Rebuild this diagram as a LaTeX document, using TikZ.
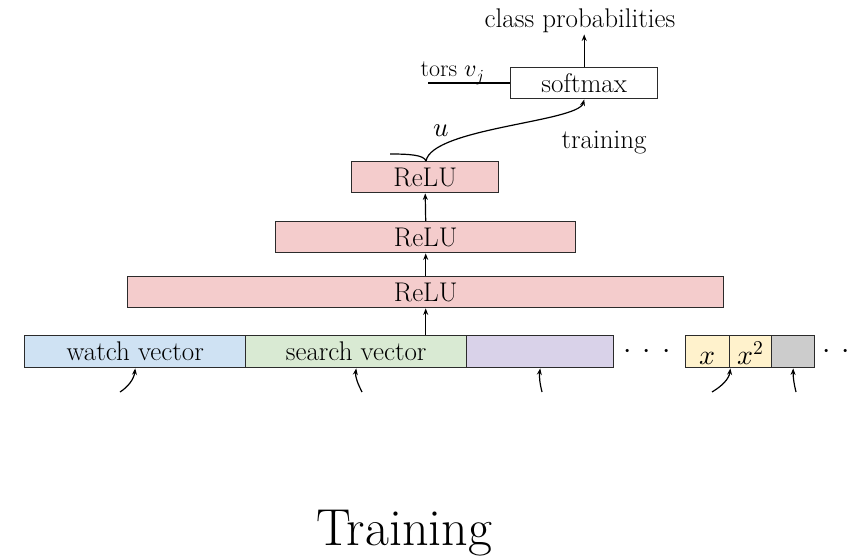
\documentclass[tikz,border=0pt]{standalone}
\usepackage{fontspec}
\usepackage{unicode-math}
\usetikzlibrary{arrows.meta}

\definecolor{relufill}{HTML}{F4CCCC}
\definecolor{watchfill}{HTML}{CFE2F3}
\definecolor{searchfill}{HTML}{D9EAD3}
\definecolor{geofill}{HTML}{D9D2E9}
\definecolor{agefill}{HTML}{FFF2CC}
\definecolor{genderfill}{HTML}{CCCCCC}
\definecolor{edgecol}{HTML}{2B2B2B}

\tikzset{
  layerbox/.style={draw=edgecol, line width=1.4pt, inner sep=0pt, anchor=north west,
    font=\fontsize{27}{31}\selectfont},
  mathbox/.style={layerbox, font=\fontsize{28}{32}\selectfont, text height=26pt, text depth=0pt},
  lbl/.style={inner sep=2pt, font=\fontsize{27}{31}\selectfont},
  arr/.style={-{Stealth[length=6.5pt,width=5pt]}, line width=1.2pt},
  plain/.style={line width=1.2pt}
}

\begin{document}
\begin{tikzpicture}[x=1pt, y=-1pt]
\useasboundingbox (0,0) rectangle (861,557);

% hidden layers
\node[layerbox, fill=relufill, minimum width=147pt, minimum height=31pt] (relu3) at (351,161) {ReLU};
\node[layerbox, fill=relufill, minimum width=300pt, minimum height=31pt] (relu2) at (275,221) {ReLU};
\node[layerbox, fill=relufill, minimum width=596pt, minimum height=31pt] (relu1) at (127,276) {ReLU};

% input embedding row
\node[layerbox, fill=watchfill,  minimum width=221pt, minimum height=32pt] (watch)  at (24,335)  {watch vector};
\node[layerbox, fill=searchfill, minimum width=221pt, minimum height=32pt] (search) at (245,335) {search vector};
\node[layerbox, fill=geofill,    minimum width=147pt, minimum height=32pt] (geo)    at (466,335) {};
\node[mathbox,  fill=agefill,    minimum width=44pt,  minimum height=32pt] (age)    at (685,335) {$x$};
\node[mathbox,  fill=agefill,    minimum width=42pt,  minimum height=32pt] (agesq)  at (729,335) {$x^2$};
\node[layerbox, fill=genderfill, minimum width=43pt,  minimum height=32pt] (gender) at (771,335) {};

\node[anchor=base, inner sep=0pt, font=\fontsize{30}{34}\selectfont] (dotsA) at (647,358) {${\cdot}\hskip 11pt{\cdot}\hskip 11pt{\cdot}$};
\node[anchor=base, inner sep=0pt, font=\fontsize{30}{34}\selectfont] (dotsB) at (836,358) {${\cdot}\hskip 10pt{\cdot}$};

% softmax head
\node[layerbox, fill=white, minimum width=147pt, minimum height=31pt] (softmax) at (510,67) {softmax};
\node[lbl, anchor=base] (probs) at (580,27) {class probabilities};
\node[lbl, anchor=base east, inner sep=0pt, font=\fontsize{24}{28}\selectfont] (vlab) at (484,76) {tors $v_j$};
\coordinate (vleft) at (428,83);
\node[lbl] (ulab) at (441,131) {$u$};
\node[lbl, anchor=base, inner sep=0pt] (trn) at (604,148) {training};

\node[anchor=base, inner sep=0pt, font=\fontsize{52}{56}\selectfont] (title) at (404,545) {Training};

% connections between layers
\draw[arr] (relu1.south |- search.north) -- (relu1.south);
\draw[arr] (relu1.north) -- (relu2.south);
\draw[arr] (relu2.north) -- (relu3.south);
\draw[arr] (softmax.north) -- (softmax.north |- probs.south);
\draw[plain] (vleft) -- (vleft -| softmax.west);

\coordinate (ujoin) at (426,161);
\coordinate (uleft) at (390,154);
\draw[plain] (uleft) .. controls (410,154) and (424,155) .. (ujoin);
\draw[arr] (ujoin) .. controls (432,128) and (578,122) .. (softmax.south);

% feature inputs entering from below
\coordinate (inW) at (120,392);
\coordinate (inS) at (362,392);
\coordinate (inG) at (542,392);
\coordinate (inA) at (712,392);
\coordinate (inX) at (796,392);
\draw[arr] (inW) .. controls (128,387) and (134,379) .. (watch.south);
\draw[arr] (inS) .. controls (358,384) and (355,377) .. (search.south);
\draw[arr] (inG) .. controls (540,384) and (539,377) .. (geo.south);
\draw[arr] (inA) .. controls (722,386) and (729,379) .. (age.south east);
\draw[arr] (inX) .. controls (794,384) and (793,377) .. (gender.south);
\end{tikzpicture}
\end{document}
